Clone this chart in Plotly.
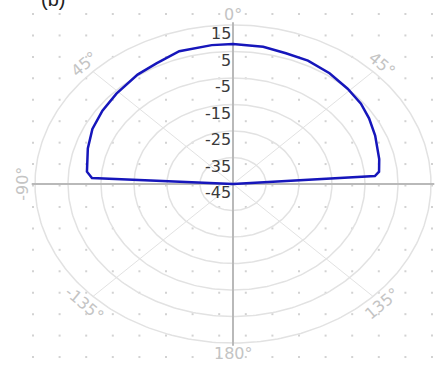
import numpy as np
import plotly.graph_objects as go

# ---------------- data ----------------
angles_deg = [-90, -87, -84, -73, -64, -55, -46, -35, -27, -18, -7, 0,
              10, 18, 26, 35, 44, 52, 59, 67, 78, 84, 86, 90]
gain_db = [-45, -2.2, -0.5, 1.0, 2.4, 3.3, 4.1, 5.4, 6.1, 7.7, 7.8, 7.8,
           7.6, 6.9, 6.8, 6.0, 5.0, 4.2, 3.1, 1.8, 0.3, -0.5, -1.9, -45]
radial_ticks = [15, 5, -5, -15, -25, -35, -45]
angle_label_pos = [0, -45, 45, -90, -135, 135, 180]
angle_label_txt = ["0°", "45°", "45°", "-90°", "-135°", "135°", "180°"]
panel_label = "(b)"

# ---------------- layout constants ----------------
W, H = 435, 366
CX, CY = 233, 184          # centre in px
SX, SY = 3.3, 2.65         # px per dB (horizontal / vertical)
R_MIN = -45
R_OUT = 60                 # outer circle radius in dB above R_MIN
R_LAB = 64

def polar_xy(theta_deg, r):
    t = np.radians(np.asarray(theta_deg, dtype=float))
    r = np.asarray(r, dtype=float)
    return r * np.sin(t), r * np.cos(t)

fig = go.Figure()

# dotted background grid
dot_cols = 33 + 26.6 * np.arange(16)
dot_rows = 14 + 21.44 * np.arange(17)
gx, gy = np.meshgrid((dot_cols - CX) / SX, (CY - dot_rows) / SY)
fig.add_trace(go.Scatter(x=gx.ravel(), y=gy.ravel(), mode="markers",
                         marker=dict(symbol="square", size=2, color="#d2d2d2",
                                     line=dict(width=0)),
                         hoverinfo="skip", showlegend=False))

# grid circles
th = np.linspace(0, 360, 361)
for t in radial_ticks:
    r = t - R_MIN
    if r <= 0:
        continue
    x, y = polar_xy(th, np.full_like(th, r))
    fig.add_trace(go.Scatter(x=x, y=y, mode="lines",
                             line=dict(color="#e2e2e2", width=1.5),
                             hoverinfo="skip", showlegend=False))

# diagonal spokes
for a in [45, -45, 135, -135]:
    x, y = polar_xy([a, a], [0, R_OUT])
    fig.add_trace(go.Scatter(x=x, y=y, mode="lines",
                             line=dict(color="#e2e2e2", width=1),
                             hoverinfo="skip", showlegend=False))

# main axes
for a in [0, 90]:
    x, y = polar_xy([a, a + 180], [R_OUT + 1, R_OUT + 1])
    fig.add_trace(go.Scatter(x=x, y=y, mode="lines",
                             line=dict(color="#b9b9b9", width=2),
                             hoverinfo="skip", showlegend=False))

# radiation pattern
px_, py_ = polar_xy(angles_deg, np.array(gain_db) - R_MIN)
fig.add_trace(go.Scatter(x=px_, y=py_, mode="lines",
                         line=dict(color="#1616bb", width=2.5),
                         hoverinfo="skip", showlegend=False))

# radial tick labels
for t in radial_ticks:
    fig.add_annotation(x=0, y=t - R_MIN, text=str(t), showarrow=False,
                       xanchor="right", yanchor="middle", xshift=0, yshift=-8.5,
                       font=dict(family="DejaVu Sans", size=16, color="#3a3a3a"))

# angular labels
rot = {0: 0, -45: -40, 45: 40, -90: -90, -135: 40, 135: -40, 180: 0}
for a, txt in zip(angle_label_pos, angle_label_txt):
    x, y = polar_xy(a, R_LAB)
    fig.add_annotation(x=float(x), y=float(y), text=txt, showarrow=False,
                       xanchor="center", yanchor="middle", textangle=rot[a],
                       font=dict(family="DejaVu Sans", size=16, color="#c4c4c4"))

fig.add_annotation(xref="paper", yref="paper", x=53 / W, y=1, yshift=1,
                   text=panel_label, showarrow=False,
                   xanchor="center", yanchor="middle",
                   font=dict(family="Liberation Sans", size=20, color="#222222"))

fig.update_layout(
    width=W, height=H, margin=dict(l=0, r=0, t=0, b=0),
    paper_bgcolor="white", plot_bgcolor="white",
    xaxis=dict(range=[-CX / SX, (W - CX) / SX], visible=False, fixedrange=True),
    yaxis=dict(range=[(CY - H) / SY, CY / SY], visible=False, fixedrange=True),
    showlegend=False,
)

fig.write_html("out.html", config={"displayModeBar": False},
               post_script="document.body.style.margin='0';")
